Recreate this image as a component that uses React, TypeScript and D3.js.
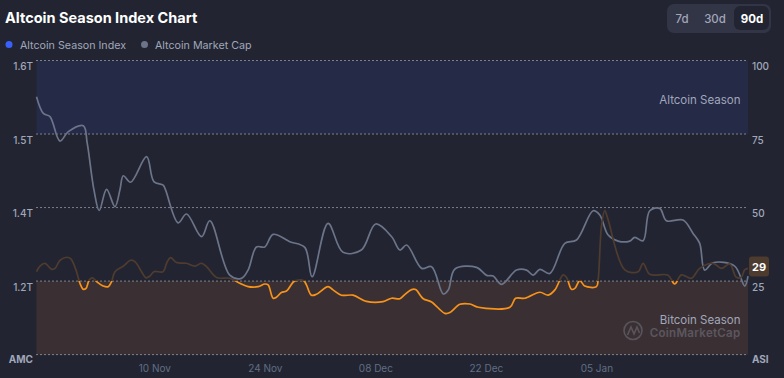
import React from "react";
import * as d3 from "d3";

const startDate = Date.UTC(2024, 9, 26);
const DAY = 86400000;

const indexDays = [0,.44,1.08,1.92,2.34,2.97,3.82,4.33,5,5.51,5.93,6.27,6.69,7.11,7.62,8.46,9.09,9.51,9.94,11,11.92,12.47,13.31,13.86,14.37,14.87,16.05,16.48,16.98,17.74,19.01,20.06,20.91,21.54,22.81,24.49,25.76,26.81,28.08,28.92,29.35,29.98,30.4,31.03,31.67,32.51,32.85,33.86,34.2,34.83,35.46,36.94,37.57,38.63,40.11,41.8,43.9,45,46.05,46.69,47.53,48.04,49,50.06,51.75,52.38,53.65,54.92,55.97,59.98,60.7,61.88,63.78,64.83,65.68,66.73,67.15,67.78,68.21,68.84,69.47,70.95,71.16,71.58,72,72.43,74.54,76.22,76.86,77.7,80.02,80.86,81.71,82.97,84.03,85.72,86.77,87.83,88.67,89.3,89.73,90.15];
const indexValues = [28.2,30.1,31.05,29,29.3,32,33.1,32.6,28.8,24.2,22.2,22.5,25.4,26.1,24.8,23.3,23.1,24.8,28.2,30.1,32.07,31.6,28.2,26.1,26.7,28.2,28.2,31.05,33,31.3,31.05,30.1,31.05,29.9,26.2,25.95,24.25,23.1,23.1,24,23.7,19.15,19.5,21.1,21.6,24.6,25.15,25.15,23.7,20.2,20.5,23.1,22,20.2,20.2,18.1,18,19.15,19,20.5,22.1,22.1,19,17.9,14,14.3,17.1,17.2,16.1,16.1,19.15,19.15,21.2,20.2,22,27.1,26.3,22.2,22.5,25.15,23.3,23.1,25.4,43.5,49,45.8,28.8,28.2,31.05,27.3,27,24,27.1,25.95,29.3,31.05,29.3,30.8,26.3,26.3,28.8,29.3];

const capDays = [0,.87,1.71,2.97,4.03,5.93,6.43,7.28,7.95,8.88,9.94,10.57,11,11.92,13.95,14.87,16.05,16.35,17.95,19.01,20.91,21.96,24.49,25.97,26.81,27.87,28.92,29.98,32.09,33.99,34.92,36.94,38.84,41.16,42.98,45,46.05,46.9,48.8,50.06,51.54,52.17,53.02,55.76,57.03,57.87,58.92,60.82,62.09,62.93,63.78,65.04,66.94,68.42,70.53,71.37,72.43,73.69,75.17,75.8,76.86,77.7,78.97,79.81,81.92,83.19,84.03,84.66,85.72,88.46,89.73,90.15];
const capValues = [1538.5,1510,1504.5,1463,1479,1489,1459,1380,1345,1381,1351.5,1380,1404,1393,1436.5,1394,1388,1380,1324,1339,1300.5,1327.6,1235,1229.6,1243.7,1283,1283,1304.4,1292,1282.3,1232.4,1323,1273.8,1277.8,1322,1300.4,1277.8,1286.3,1246.6,1249.4,1203,1209.7,1245.5,1248.3,1234.7,1233.5,1219.4,1243.7,1243.7,1235.2,1244.9,1238,1289,1294.8,1344.6,1337.3,1303.3,1293,1293,1299.3,1293.6,1344.6,1348.6,1327.6,1328.8,1306,1289,1243.7,1256.2,1250.5,1216.5,1233.5];

const indexTicks = [100, 75, 50, 25];
const rightLabels = ["100", "75", "50", "25"];
const leftLabels = ["1.6T", "1.5T", "1.4T", "1.2T"];
const dateTicks = [15, 29, 43, 57, 71];
const rangeOptions = ["7d", "30d", "90d"];
const latestIndex = 29;

const W = 784, H = 378;
const L = 36.5, R = 748, T = 60.5, B = 354.6;
const FONT = "Inter, 'Noto Sans', sans-serif";

const toDate = (d: number) => new Date(startDate + d * DAY);

export default function App() {
  const x = d3.scaleUtc().domain([toDate(0), toDate(90.15)]).range([L, R]);
  const yIdx = d3.scaleLinear().domain([0, 100]).range([B, T]);
  const yCap = d3.scaleLinear().domain([1100, 1600]).range([B, T]);
  const fmt = d3.utcFormat("%d %b");

  const idxPts = indexDays.map((d, i) => [d, indexValues[i]] as [number, number]);
  const capPts = capDays.map((d, i) => [d, capValues[i]] as [number, number]);
  const curve = d3.curveCatmullRom.alpha(0.5);
  const idxLine = d3.line<[number, number]>().x(p => x(toDate(p[0]))).y(p => yIdx(p[1])).curve(curve)(idxPts)!;
  const capLine = d3.line<[number, number]>().x(p => x(toDate(p[0]))).y(p => yCap(p[1])).curve(curve)(capPts)!;

  return (
    <svg width={W} height={H} viewBox={`0 0 ${W} ${H}`} style={{ position: "absolute", left: 0, top: 0, background: "#222531", fontFamily: FONT }}>
      <defs>
        <clipPath id="below"><rect x={L - 2} y={yIdx(25)} width={R - L + 4} height={B - yIdx(25)} /></clipPath>
        <clipPath id="above"><rect x={L - 2} y={T} width={R - L + 4} height={yIdx(25) - T} /></clipPath>
      </defs>
      <text x={5} y={23} fontSize={14.5} fontWeight={700} fill="#fff">Altcoin Season Index Chart</text>

      <circle cx={9} cy={44.5} r={3.5} fill="#3861fb" />
      <text x={20} y={48.5} fontSize={10.7} fill="#a1a7bb">Altcoin Season Index</text>
      <circle cx={144.5} cy={44.5} r={3.5} fill="#6b7489" />
      <text x={155} y={48.5} fontSize={10.7} fill="#a1a7bb">Altcoin Market Cap</text>

      <rect x={667} y={4} width={104} height={29} rx={7} fill="#323546" />
      <rect x={734} y={6} width={35} height={24} rx={6} fill="#222531" />
      {rangeOptions.map((o, i) => (
        <text key={o} x={[682, 715, 752][i]} y={22.5} fontSize={11.5} textAnchor="middle"
          fontWeight={i === 2 ? 700 : 500} fill={i === 2 ? "#fff" : "#a1a7bb"}>{o}</text>
      ))}

      <rect x={L} y={yIdx(100)} width={R - L} height={yIdx(75) - yIdx(100)} fill="#252a47" />
      <rect x={L} y={yIdx(25)} width={R - L} height={yIdx(0) - yIdx(25)} fill="#3a3033" />

      {[...indexTicks, 0].map(t => (
        <line key={t} x1={L} x2={R} y1={yIdx(t)} y2={yIdx(t)} stroke="#d5d8e2" strokeWidth={1} strokeDasharray="1 3" />
      ))}

      <text x={740.5} y={104} fontSize={11.5} textAnchor="end" fill="#a1a7bb">Altcoin Season</text>
      <text x={740.5} y={323.5} fontSize={11.5} textAnchor="end" fill="#a1a7bb">Bitcoin Season</text>

      <g opacity={0.3} fill="none" stroke="#a1a7bb" strokeWidth={1.6}>
        <circle cx={633} cy={330.5} r={9} />
        <path d="M627.5 335 L631 327 L634 334 L637 327 L639.5 333" />
      </g>
      <text x={740.5} y={336.5} fontSize={11.5} letterSpacing={0.3} fontWeight={600} textAnchor="end" fill="#a1a7bb" opacity={0.32}>CoinMarketCap</text>

      <path d={capLine} fill="none" stroke="#6b7489" strokeWidth={1.7} />
      <path d={idxLine} fill="none" stroke="#4f3c2f" strokeWidth={1.7} clipPath="url(#above)" />
      <path d={idxLine} fill="none" stroke="#f7931a" strokeWidth={1.7} clipPath="url(#below)" />

      {indexTicks.map((t, i) => (
        <g key={t} fontSize={10} fontWeight={500} fill="#a1a7bb">
          <text x={33} y={yIdx(t) + 9.5} textAnchor="end">{leftLabels[i]}</text>
          <text x={752} y={yIdx(t) + 9.5}>{rightLabels[i]}</text>
        </g>
      ))}
      <text x={33} y={363} fontSize={10} fontWeight={700} textAnchor="end" fill="#a1a7bb">AMC</text>
      <text x={752} y={363} fontSize={10} fontWeight={700} fill="#a1a7bb">ASI</text>

      {dateTicks.map(d => (
        <text key={d} x={x(toDate(d))} y={372} fontSize={10} textAnchor="middle" fill="#616e85">{fmt(toDate(d))}</text>
      ))}

      <rect x={749} y={256.5} width={20} height={20} rx={3} fill="#4d3b2e" />
      <text x={759} y={270.5} fontSize={11} fontWeight={700} textAnchor="middle" fill="#fff">{latestIndex}</text>
    </svg>
  );
}
